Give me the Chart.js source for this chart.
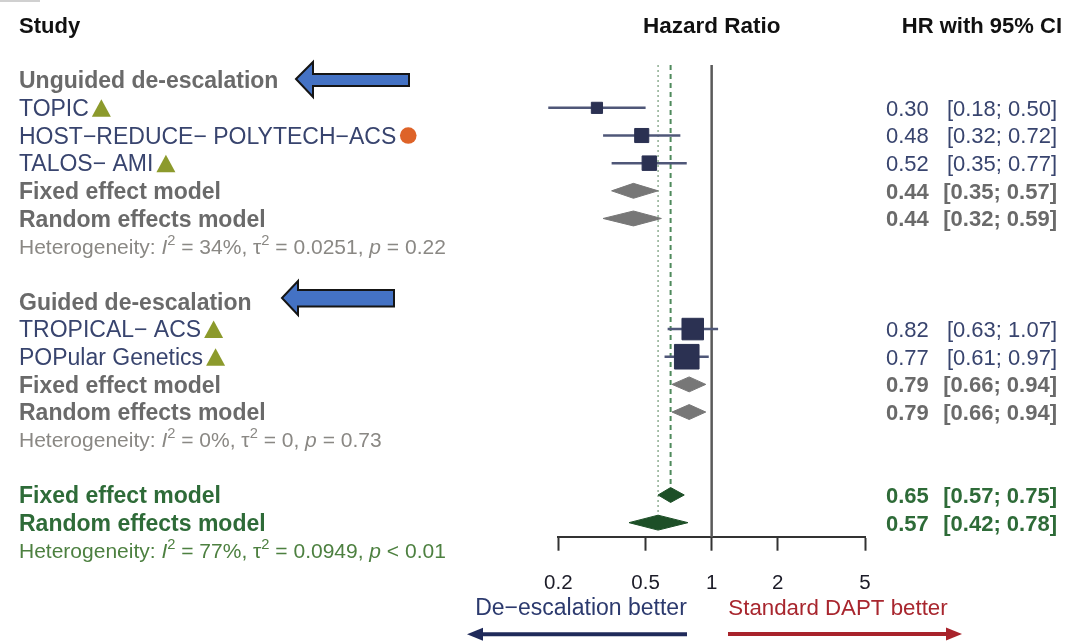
<!DOCTYPE html>
<html>
<head>
<meta charset="utf-8">
<script src="https://cdn.jsdelivr.net/npm/chart.js@4/dist/chart.umd.min.js"></script>
<style>
  html, body { margin: 0; padding: 0; background: #fff; }
  #wrap { width: 1068px; height: 641px; position: relative; }
</style>
</head>
<body>
<div id="wrap"><canvas id="forest"></canvas></div>
<script>
// single studies, hazard ratio with 95% CI
const studyNames = ['TOPIC', 'HOST\u2212REDUCE\u2212 POLYTECH\u2212ACS', 'TALOS\u2212 AMI', 'TROPICAL\u2212 ACS', 'POPular Genetics'];
const studyRows = [1, 2, 3, 9, 10];
const studyHR = [0.30, 0.48, 0.52, 0.82, 0.77];
const studyLo = [0.18, 0.32, 0.35, 0.63, 0.61];
const studyHi = [0.50, 0.72, 0.77, 1.07, 0.97];
const studyWeight = [7.8, 12.4, 13.1, 29.0, 37.8]; // approx % weight (box size)
const studyFlag = ['tri', 'dot', 'tri', 'tri', 'tri'];

// pooled estimates
const modelNames = ['Fixed effect model', 'Random effects model', 'Fixed effect model', 'Random effects model', 'Fixed effect model', 'Random effects model'];
const modelRows = [4, 5, 11, 12, 15, 16];
const modelHR = [0.44, 0.44, 0.79, 0.79, 0.65, 0.57];
const modelLo = [0.35, 0.32, 0.66, 0.66, 0.57, 0.42];
const modelHi = [0.57, 0.59, 0.94, 0.94, 0.75, 0.78];
const modelOverall = [false, false, false, false, true, true];

// subgroups + heterogeneity lines
const groupNames = ['Unguided de-escalation', 'Guided de-escalation'];
const groupRows = [0, 8];
const hetRows = [6, 13, 17];
const hetI2 = ['34%', '0%', '77%'];
const hetTau2 = ['0.0251', '0', '0.0949'];
const hetP = ['= 0.22', '= 0.73', '< 0.01'];

const xTicks = [0.2, 0.5, 1, 2, 5];

const FONT = '"Liberation Sans", Arial, Helvetica, sans-serif';
const NAVY = '#38446e';
const GREY = '#6a6a6a';
const GREEN = '#2e6b38';

const ciSets = studyNames.map((n, i) => ({
  type: 'line',
  data: [{ x: studyLo[i], y: studyRows[i] }, { x: studyHi[i], y: studyRows[i] }],
  borderColor: '#4f5778', borderWidth: 2.5, pointRadius: 0, order: 4, clip: false
}));

const boxSet = {
  type: 'scatter',
  data: studyHR.map((v, i) => ({ x: v, y: studyRows[i] })),
  pointStyle: 'rect',
  pointRadius: studyWeight.map(w => 4 * Math.sqrt(w) / Math.SQRT2),
  backgroundColor: '#2b3152', borderColor: '#2b3152', borderWidth: 1,
  order: 1, clip: false
};

const diamondSets = modelNames.map((n, i) => {
  const c = modelOverall[i] ? '#1d4f27' : '#777777';
  const r = modelRows[i];
  return {
    type: 'line',
    data: [
      { x: modelLo[i], y: r }, { x: modelHR[i], y: r - 0.27 },
      { x: modelHi[i], y: r }, { x: modelHR[i], y: r + 0.27 },
      { x: modelLo[i], y: r }
    ],
    fill: 'shape', backgroundColor: c, borderColor: c, borderWidth: 1,
    pointRadius: 0, tension: 0, order: 2, clip: false
  };
});

// reference lines: no effect, overall fixed (dashed), overall random (dotted)
const refSets = [
  { type: 'line', data: [{ x: 1, y: -0.55 }, { x: 1, y: 16.53 }],
    borderColor: '#5a5a5a', borderWidth: 2.5, pointRadius: 0, order: 6, clip: false },
  { type: 'line', data: [{ x: modelHR[4], y: -0.55 }, { x: modelHR[4], y: modelRows[4] }],
    borderColor: '#4f8a5c', borderWidth: 2, borderDash: [5, 4], pointRadius: 0, order: 5, clip: false },
  { type: 'line', data: [{ x: modelHR[5], y: -0.55 }, { x: modelHR[5], y: modelRows[5] }],
    borderColor: '#8fae92', borderWidth: 1.5, borderDash: [2, 3], pointRadius: 0, order: 5, clip: false }
];

function txt(ctx, s, x, y, size, color, weight, align) {
  ctx.font = (weight || 'normal') + ' ' + size + 'px ' + FONT;
  ctx.fillStyle = color;
  ctx.textAlign = align || 'left';
  ctx.textBaseline = 'alphabetic';
  ctx.fillText(s, x, y + size * 0.358);
  return ctx.measureText(s).width;
}

function hetText(ctx, i, x, y, color) {
  const size = 21;
  const parts = [['Heterogeneity: ', ''], ['I', 'it'], ['2', 'sup'], [' = ' + hetI2[i] + ', ', ''],
    ['\u03c4', ''], ['2', 'sup'], [' = ' + hetTau2[i] + ', ', ''], ['p', 'it'], [' ' + hetP[i], '']];
  let cx = x;
  ctx.fillStyle = color;
  ctx.textAlign = 'left';
  ctx.textBaseline = 'alphabetic';
  parts.forEach(([s, kind]) => {
    let sz = size, dy = 0, st = 'normal';
    if (kind === 'it') st = 'italic';
    if (kind === 'sup') { sz = size * 0.7; dy = -size * 0.42; }
    ctx.font = st + ' ' + sz + 'px ' + FONT;
    ctx.fillText(s, cx, y + size * 0.358 + dy);
    cx += ctx.measureText(s).width;
  });
}

function flag(ctx, kind, x, y) {
  ctx.beginPath();
  if (kind === 'tri') {
    ctx.fillStyle = '#8c9a2c';
    ctx.moveTo(x, y + 9); ctx.lineTo(x + 19, y + 9); ctx.lineTo(x + 9.5, y - 8.5);
    ctx.closePath();
  } else {
    ctx.fillStyle = '#de6328';
    ctx.arc(x + 9, y, 8.3, 0, Math.PI * 2);
  }
  ctx.fill();
}

function blockArrow(ctx, tipX, tipY, baseX, headTop, headBot, shaftTop, shaftBot, endX) {
  ctx.beginPath();
  ctx.moveTo(tipX, tipY);
  ctx.lineTo(baseX, headTop);
  ctx.lineTo(baseX, shaftTop);
  ctx.lineTo(endX, shaftTop);
  ctx.lineTo(endX, shaftBot);
  ctx.lineTo(baseX, shaftBot);
  ctx.lineTo(baseX, headBot);
  ctx.closePath();
  ctx.fillStyle = '#4472c4';
  ctx.fill();
  ctx.strokeStyle = '#151515';
  ctx.lineWidth = 2;
  ctx.stroke();
}

function lineArrow(ctx, x0, x1, y, color) {
  // x1 is the tip
  const dir = x1 > x0 ? 1 : -1;
  ctx.strokeStyle = color;
  ctx.lineWidth = 4;
  ctx.beginPath();
  ctx.moveTo(x0, y);
  ctx.lineTo(x1 - dir * 12, y);
  ctx.stroke();
  ctx.fillStyle = color;
  ctx.beginPath();
  ctx.moveTo(x1, y);
  ctx.lineTo(x1 - dir * 16, y - 6.5);
  ctx.lineTo(x1 - dir * 16, y + 6.5);
  ctx.closePath();
  ctx.fill();
}

const forestText = {
  id: 'forestText',
  afterDraw(chart) {
    const ctx = chart.ctx;
    const ys = chart.scales.y, xs = chart.scales.x;
    const Y = r => ys.getPixelForValue(r);
    ctx.save();

    ctx.fillStyle = '#d0d0d0';
    ctx.fillRect(0, 0, 40, 2);

    // headers
    txt(ctx, 'Study', 19, Y(-2), 22, '#111', 'bold');
    txt(ctx, 'Hazard Ratio', xs.getPixelForValue(1), Y(-2), 22.5, '#111', 'bold', 'center');
    txt(ctx, 'HR with 95% CI', 1062, Y(-2), 22, '#111', 'bold', 'right');

    groupNames.forEach((g, i) => txt(ctx, g, 19, Y(groupRows[i]), 23, GREY, 'bold'));

    studyNames.forEach((s, i) => {
      const y = Y(studyRows[i]);
      const w = txt(ctx, s, 19, y, 23, NAVY);
      flag(ctx, studyFlag[i], 19 + w + 3, y);
      txt(ctx, studyHR[i].toFixed(2), 886, y, 22, NAVY);
      txt(ctx, '[' + studyLo[i].toFixed(2) + '; ' + studyHi[i].toFixed(2) + ']', 1057, y, 22, NAVY, 'normal', 'right');
    });

    modelNames.forEach((m, i) => {
      const y = Y(modelRows[i]);
      const c = modelOverall[i] ? GREEN : GREY;
      txt(ctx, m, 19, y, 23, c, 'bold');
      txt(ctx, modelHR[i].toFixed(2), 886, y, 22, c, 'bold');
      txt(ctx, '[' + modelLo[i].toFixed(2) + '; ' + modelHi[i].toFixed(2) + ']', 1057, y, 22, c, 'bold', 'right');
    });

    hetRows.forEach((r, i) => hetText(ctx, i, 19, Y(r), i === 2 ? '#4d8040' : '#8a8884'));

    // annotation arrows next to subgroup titles
    blockArrow(ctx, 296, 79, 313, 62, 97, 74, 86, 409);
    blockArrow(ctx, 282, 298, 298, 281, 315, 290, 306.5, 394);

    // direction labels under the axis
    txt(ctx, 'De\u2212escalation better', 581, 606.7, 23, '#2c3a6e', 'normal', 'center');
    txt(ctx, 'Standard DAPT better', 838, 606.7, 22.3, '#a8262e', 'normal', 'center');
    lineArrow(ctx, 687, 467, 634.3, '#1f2a5a');
    lineArrow(ctx, 728, 962, 634, '#a8232b');

    ctx.restore();
  }
};

new Chart(document.getElementById('forest'), {
  type: 'scatter',
  data: { datasets: [boxSet, ...diamondSets, ...ciSets, ...refSets] },
  options: {
    responsive: true,
    maintainAspectRatio: false,
    animation: false,
    events: [],
    layout: { padding: { left: 558.3, right: 203, top: 65, bottom: 0 } },
    plugins: { legend: { display: false }, tooltip: { enabled: false } },
    scales: {
      x: {
        type: 'logarithmic',
        min: 0.2,
        max: 5,
        afterBuildTicks: (scale) => { scale.ticks = xTicks.map(v => ({ value: v })); },
        afterFit: (scale) => { scale.height = 103.7; },
        ticks: {
          autoSkip: false,
          maxRotation: 0,
          padding: 20,
          color: '#1c1c28',
          font: { family: FONT, size: 20.5 },
          callback: (v) => String(v)
        },
        grid: { drawOnChartArea: false, drawTicks: true, tickLength: 13.4, tickColor: '#333', tickWidth: 2 },
        border: { display: true, color: '#333', width: 2 }
      },
      y: {
        type: 'linear',
        display: false,
        reverse: true,
        min: -0.55,
        max: 16.53
      }
    }
  },
  plugins: [forestText]
});
</script>
</body>
</html>
